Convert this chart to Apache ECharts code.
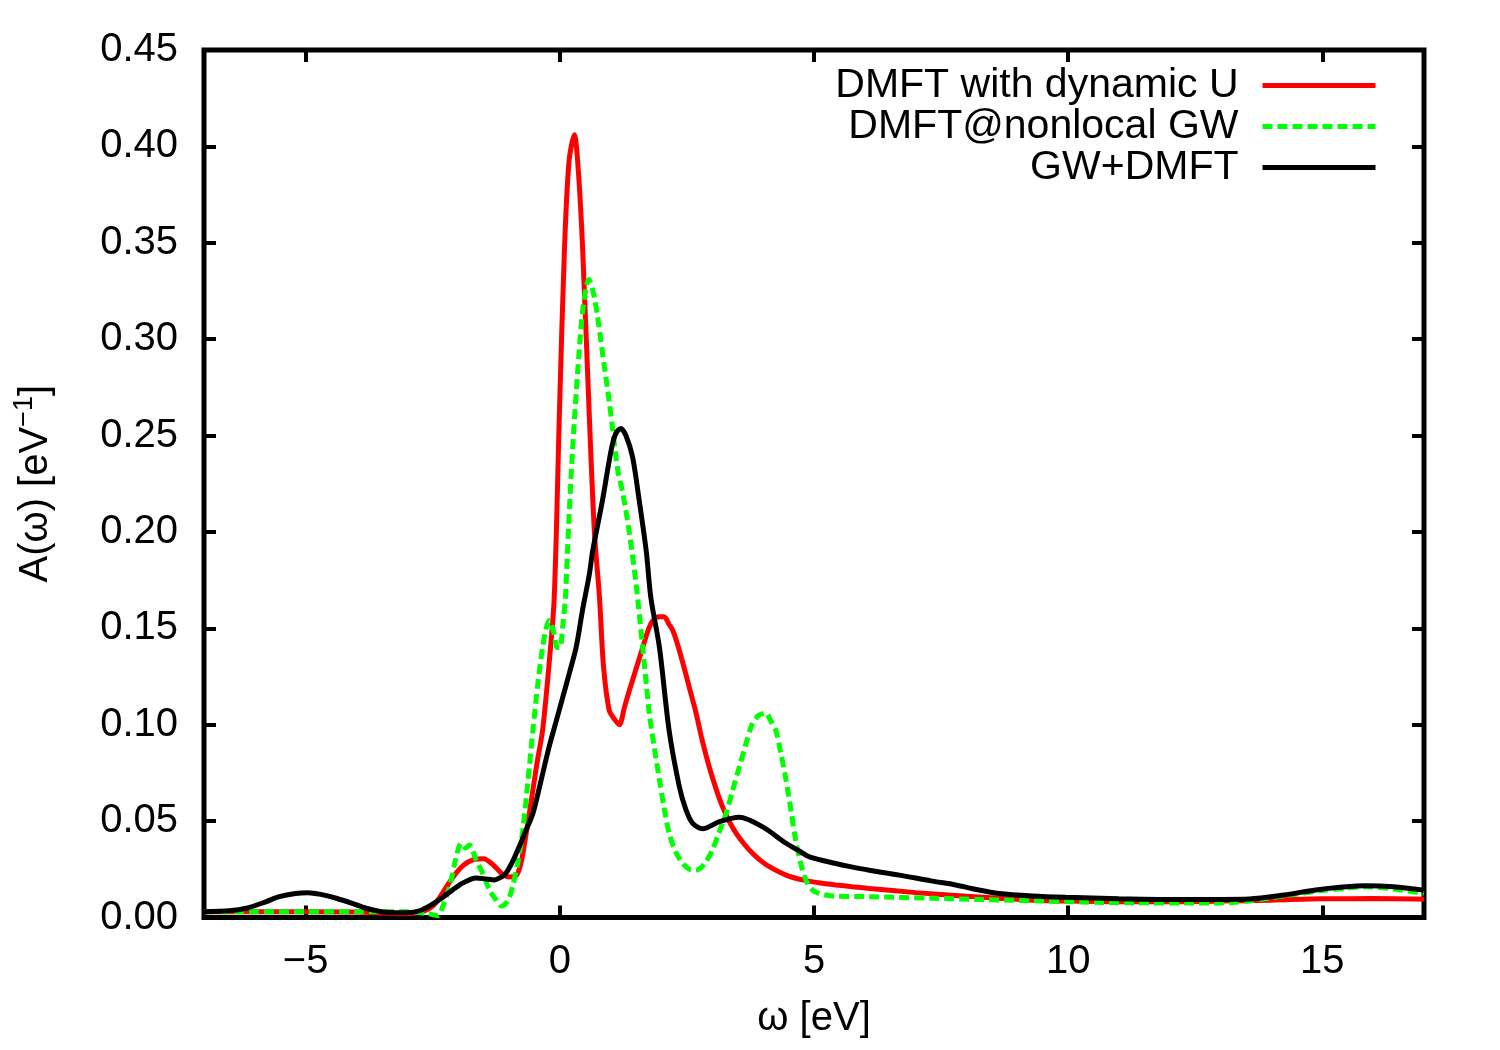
<!DOCTYPE html>
<html>
<head>
<meta charset="utf-8">
<script src="https://cdn.jsdelivr.net/npm/echarts@6/dist/echarts.min.js"></script>
<style>
html,body{margin:0;padding:0;background:#fff;}
#chart{width:1500px;height:1050px;}
</style>
</head>
<body>
<div id="chart"></div>
<script>
// ---- data ----
const seriesNames = ['DMFT with dynamic U', 'DMFT@nonlocal GW', 'GW+DMFT'];
const xTicks = [-5, 0, 5, 10, 15];
const yTicks = [0, 0.05, 0.10, 0.15, 0.20, 0.25, 0.30, 0.35, 0.40, 0.45];

const dmftDynU = [
  [-7,0.003],[-6,0.003],[-5,0.003],[-4,0.0028],[-3.2,0.002],[-2.8,0.0025],[-2.5,0.006],
  [-2.3,0.013],[-2.1,0.021],[-1.9,0.027],[-1.7,0.030],[-1.5,0.0305],[-1.3,0.027],
  [-1.15,0.023],[-1.0,0.021],[-0.85,0.022],[-0.75,0.03],[-0.6,0.054],[-0.45,0.080],
  [-0.34,0.097],[-0.21,0.132],[-0.11,0.166],[-0.01,0.26],[0.09,0.346],[0.18,0.392],
  [0.285,0.406],[0.37,0.385],[0.45,0.346],[0.58,0.26],[0.68,0.20],[0.78,0.166],
  [0.86,0.130],[0.97,0.1076],[1.07,0.103],[1.17,0.100],[1.27,0.109],[1.37,0.118],
  [1.5,0.129],[1.63,0.140],[1.75,0.150],[1.83,0.154],[1.95,0.156],[2.05,0.156],
  [2.15,0.152],[2.22,0.149],[2.3,0.143],[2.42,0.132],[2.55,0.119],[2.68,0.106],
  [2.8,0.092],[2.94,0.078],[3.07,0.067],[3.20,0.0575],[3.33,0.050],[3.47,0.0437],
  [3.63,0.038],[3.79,0.0333],[3.95,0.0295],[4.12,0.0264],[4.45,0.022],[4.77,0.0195],
  [5.1,0.018],[5.43,0.0169],[5.75,0.016],[6.09,0.0151],[7.0,0.0129],[8.0,0.011],
  [8.64,0.010],[9.3,0.009],[9.95,0.0085],[11,0.0082],[12,0.0082],[13,0.0085],
  [14,0.009],[15,0.0097],[16,0.0098],[17,0.0095]
];

const dmftNonlocGW = [
  [-7,0.003],[-6,0.003],[-5,0.003],[-4,0.003],[-3,0.003],[-2.6,0.002],[-2.4,0.001],
  [-2.3,0.006],[-2.17,0.016],[-2.05,0.030],[-1.94,0.0385],[-1.85,0.036],[-1.78,0.0376],
  [-1.65,0.030],[-1.52,0.023],[-1.38,0.014],[-1.25,0.009],[-1.15,0.006],[-1.09,0.0065],
  [-1.0,0.010],[-0.93,0.016],[-0.83,0.028],[-0.73,0.045],[-0.63,0.070],[-0.53,0.097],
  [-0.43,0.122],[-0.34,0.140],[-0.27,0.150],[-0.21,0.154],[-0.12,0.148],[-0.05,0.140],
  [0.0,0.140],[0.06,0.152],[0.11,0.166],[0.15,0.19],[0.25,0.2425],[0.38,0.294],
  [0.45,0.315],[0.52,0.327],[0.57,0.331],[0.66,0.324],[0.74,0.312],[0.875,0.286],
  [0.97,0.268],[1.04,0.253],[1.14,0.232],[1.24,0.220],[1.37,0.199],[1.50,0.173],
  [1.63,0.140],[1.76,0.106],[1.86,0.088],[1.96,0.0713],[2.05,0.057],[2.15,0.0437],
  [2.28,0.034],[2.42,0.028],[2.55,0.025],[2.68,0.0246],[2.85,0.028],[3.00,0.035],
  [3.13,0.044],[3.27,0.054],[3.40,0.066],[3.53,0.078],[3.66,0.090],[3.79,0.1007],
  [3.92,0.105],[4.05,0.106],[4.15,0.102],[4.25,0.097],[4.35,0.085],[4.45,0.0713],
  [4.55,0.055],[4.64,0.040],[4.74,0.028],[4.84,0.0195],[4.97,0.0143],[5.10,0.0125],
  [5.36,0.0112],[6.09,0.0108],[7.33,0.010],[8.3,0.0093],[9.29,0.0087],[10.3,0.008],
  [11.26,0.0077],[12.3,0.0075],[13.2,0.0077],[13.8,0.0095],[14.5,0.0122],[15.0,0.014],
  [15.5,0.0153],[15.85,0.016],[16.4,0.0148],[17,0.0125]
];

const gwDmft = [
  [-7,0.003],[-6.5,0.0035],[-6.17,0.0048],[-5.8,0.008],[-5.52,0.0108],[-5.2,0.0125],
  [-4.96,0.0129],[-4.7,0.012],[-4.40,0.010],[-4.1,0.0075],[-3.81,0.0048],[-3.5,0.003],
  [-3.22,0.0025],[-3.0,0.0025],[-2.76,0.0035],[-2.5,0.007],[-2.3,0.0105],[-2.11,0.0143],
  [-1.9,0.018],[-1.65,0.0205],[-1.45,0.020],[-1.29,0.0195],[-1.15,0.021],[-1.06,0.023],
  [-0.93,0.029],[-0.80,0.0367],[-0.67,0.045],[-0.53,0.054],[-0.37,0.071],[-0.21,0.0886],
  [-0.07,0.102],[0.06,0.1145],[0.19,0.127],[0.32,0.140],[0.45,0.160],[0.58,0.178],
  [0.645,0.19],[0.84,0.2166],[1.01,0.2425],[1.10,0.251],[1.20,0.2537],[1.30,0.250],
  [1.43,0.239],[1.56,0.2166],[1.70,0.19],[1.79,0.166],[1.96,0.140],[2.15,0.097],
  [2.35,0.068],[2.48,0.056],[2.61,0.049],[2.81,0.046],[3.14,0.0497],[3.53,0.052],
  [3.99,0.047],[4.45,0.0385],[4.71,0.0345],[4.91,0.0315],[5.43,0.028],[5.69,0.0265],
  [6.09,0.0245],[6.68,0.022],[7.3,0.019],[7.79,0.0169],[8.2,0.0145],[8.64,0.0125],
  [9.3,0.0112],[9.95,0.0105],[11.0,0.0097],
  [11.79,0.0094],[13.0,0.0094],[13.56,0.0096],[14.2,0.0115],[14.87,0.0143],[15.4,0.0158],
  [15.85,0.0165],[16.4,0.016],[17,0.0142]
];

const colors = ['#ff0000', '#00ff00', '#000000'];
const FONT = 'Liberation Sans';
const FS = 40;

const chart = echarts.init(document.getElementById('chart'), null, {renderer: 'canvas'});

const tickStyle = {color: '#000', width: 4};

const option = {
  backgroundColor: '#fff',
  animation: false,
  grid: {left: 204, right: 76, top: 50, bottom: 132.5, show: true,
         borderColor: '#000', borderWidth: 5, backgroundColor: 'transparent'},
  legend: {
    data: seriesNames,
    orient: 'vertical', right: 122, top: 65, align: 'right', padding: 0,
    itemWidth: 113, itemHeight: 20, itemGap: 0, selectedMode: false,
    textStyle: {fontFamily: FONT, fontSize: 41, color: '#000', lineHeight: 41,
                padding: [0, 19, 0, 0]},
    itemStyle: {opacity: 0},
    lineStyle: {width: 5}
  },
  xAxis: [
    {
      type: 'value', min: -7, max: 17, position: 'bottom',
      axisLine: {show: false, onZero: false}, splitLine: {show: false},
      name: 'ω [eV]', nameLocation: 'middle', nameGap: 81,
      nameTextStyle: {fontFamily: FONT, fontSize: FS, color: '#000'},
      axisTick: {show: true, inside: true, length: 12, customValues: xTicks, lineStyle: tickStyle},
      axisLabel: {show: true, customValues: xTicks, margin: 24, fontFamily: FONT,
                  fontSize: FS, color: '#000',
                  formatter: v => String(v).replace('-', '\u2212')}
    },
    {
      type: 'value', min: -7, max: 17, position: 'top',
      axisLine: {show: false, onZero: false}, splitLine: {show: false},
      axisTick: {show: true, inside: true, length: 12, customValues: xTicks, lineStyle: tickStyle},
      axisLabel: {show: false, customValues: xTicks}
    }
  ],
  yAxis: [
    {
      type: 'value', min: 0, max: 0.45, interval: 0.05, position: 'left',
      axisLine: {show: false, onZero: false}, splitLine: {show: false},
      axisTick: {show: true, inside: true, length: 12, lineStyle: tickStyle},
      name: 'A(ω) [eV{sup|\u22121}]', nameLocation: 'middle', nameGap: 144,
      nameTextStyle: {fontFamily: FONT, fontSize: FS, color: '#000',
                      rich: {sup: {fontFamily: FONT, fontSize: 27, color: '#000',
                                   padding: [0, 0, 22, 0]}}},
      axisLabel: {show: true, margin: 26, fontFamily: FONT, fontSize: FS, color: '#000',
                  formatter: v => v.toFixed(2)}
    },
    {
      type: 'value', min: 0, max: 0.45, interval: 0.05, position: 'right',
      axisLine: {show: false, onZero: false}, splitLine: {show: false},
      axisTick: {show: true, inside: true, length: 12, lineStyle: tickStyle},
      axisLabel: {show: false}
    }
  ],
  series: [
    {name: seriesNames[0], type: 'line', data: dmftDynU, xAxisIndex: 0, yAxisIndex: 0,
     showSymbol: false, symbol: 'none', smooth: 0.3, color: colors[0],
     lineStyle: {width: 5, color: colors[0]}},
    {name: seriesNames[1], type: 'line', data: dmftNonlocGW, xAxisIndex: 0, yAxisIndex: 0,
     showSymbol: false, symbol: 'none', smooth: 0.3, color: colors[1],
     lineStyle: {width: 5, color: colors[1], type: [10, 5]}},
    {name: seriesNames[2], type: 'line', data: gwDmft, xAxisIndex: 0, yAxisIndex: 0,
     showSymbol: false, symbol: 'none', smooth: 0.3, color: colors[2],
     lineStyle: {width: 5, color: colors[2]}}
  ]
};
chart.setOption(option);
</script>
</body>
</html>
